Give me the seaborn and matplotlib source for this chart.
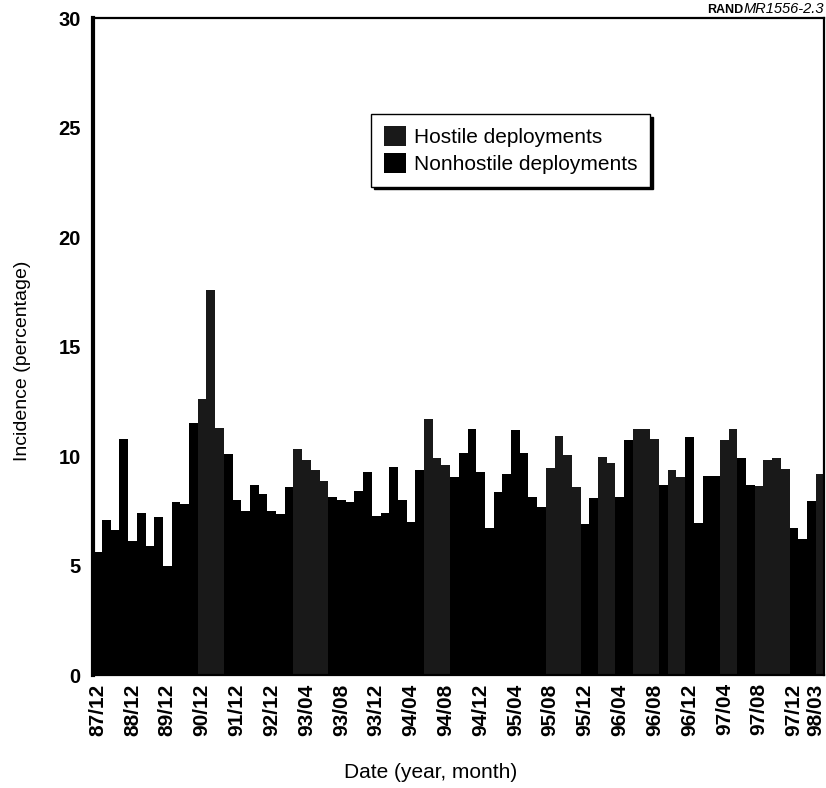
import pandas as pd
import matplotlib.pyplot as plt
import seaborn as sns
import matplotlib as mpl

sns.set_style('white')
mpl.rcParams.update({
    'font.family': ['Liberation Sans', 'DejaVu Sans'],
    'font.size': 14,
    'text.color': 'black',
    'axes.labelcolor': 'black',
    'xtick.color': 'black',
    'ytick.color': 'black',
})

# quarterly until 92/12, monthly afterwards
dates = [
    "87/12", "88/03", "88/06", "88/09", "88/12", "89/03", "89/06", "89/09",
    "89/12", "90/03", "90/06", "90/09", "90/12", "91/03", "91/06", "91/09",
    "91/12", "92/03", "92/06", "92/09", "92/12",
    "93/01", "93/02", "93/03", "93/04", "93/05", "93/06", "93/07", "93/08",
    "93/09", "93/10", "93/11", "93/12",
    "94/01", "94/02", "94/03", "94/04", "94/05", "94/06", "94/07", "94/08",
    "94/09", "94/10", "94/11", "94/12",
    "95/01", "95/02", "95/03", "95/04", "95/05", "95/06", "95/07", "95/08",
    "95/09", "95/10", "95/11", "95/12",
    "96/01", "96/02", "96/03", "96/04", "96/05", "96/06", "96/07", "96/08",
    "96/09", "96/10", "96/11", "96/12",
    "97/01", "97/02", "97/03", "97/04", "97/05", "97/06", "97/07", "97/08",
    "97/09", "97/10", "97/11", "97/12",
    "98/01", "98/02", "98/03",
]

incidence = [
    5.6, 7.1, 6.6, 10.8, 6.1, 7.4, 5.9, 7.2,
    5.0, 7.9, 7.8, 11.5, 12.6, 17.6, 11.3, 10.1,
    8.0, 7.5, 8.7, 8.25, 7.5,
    7.35, 8.6, 10.3, 9.8, 9.35, 8.85, 8.15, 8.0,
    7.9, 8.4, 9.25, 7.25,
    7.4, 9.5, 8.0, 7.0, 9.35, 11.7, 9.9, 9.6,
    9.05, 10.15, 11.25, 9.25,
    6.7, 8.35, 9.2, 11.2, 10.15, 8.15, 7.65, 9.45,
    10.9, 10.05, 8.6, 6.9,
    8.1, 9.95, 9.7, 8.15, 10.75, 11.25, 11.25, 10.8,
    8.7, 9.35, 9.05, 10.85,
    6.95, 9.1, 9.1, 10.75, 11.25, 9.9, 8.7, 8.65,
    9.8, 9.9, 9.4, 6.7,
    6.2, 7.95, 9.2,
]

hostile_dates = [
    "90/12", "91/03", "91/06",
    "93/03", "93/04", "93/05", "93/06",
    "94/06", "94/07", "94/08",
    "95/08", "95/09", "95/10", "95/11", "96/02", "96/03",
    "96/06", "96/07", "96/08", "96/10", "96/11",
    "97/04", "97/05", "97/08", "97/09", "97/10", "97/11", "98/03",
]

tick_labels = [
    "87/12", "88/12", "89/12", "90/12", "91/12", "92/12", "93/04", "93/08",
    "93/12", "94/04", "94/08", "94/12", "95/04", "95/08", "95/12", "96/04",
    "96/08", "96/12", "97/04", "97/08", "97/12", "98/03",
]

df = pd.DataFrame({'Date': dates, 'Incidence': incidence})
df['Type'] = ['Hostile deployments' if d in hostile_dates else 'Nonhostile deployments'
              for d in df['Date']]

fig = plt.figure(figsize=(8.26, 7.88), dpi=100)
ax = fig.add_axes([0.113, 0.1434, 0.885, 0.8336])

sns.barplot(
    data=df, x='Date', y='Incidence', hue='Type', order=dates,
    hue_order=['Hostile deployments', 'Nonhostile deployments'],
    palette={'Hostile deployments': '#191919', 'Nonhostile deployments': 'black'},
    dodge=False, width=1.0, saturation=1, linewidth=0, ax=ax,
)

ax.set_xlim(-0.5, len(dates) - 0.5)
ax.set_ylim(0, 30)
ax.set_yticks([0, 5, 10, 15, 20, 25, 30])
ax.set_yticklabels(['0', '5', '10', '15', '20', '25', '30'], fontweight='bold', fontsize=14.5)
ax.set_xticks([dates.index(t) for t in tick_labels])
ax.set_xticklabels(tick_labels, rotation=90, fontweight='bold', fontsize=15)

ax.tick_params(axis='y', direction='in', length=13, width=1.5, pad=9)
ax.tick_params(axis='x', length=0, pad=6)

# last label sits right at the figure edge
last = ax.get_xticklabels()[-1]
last.set_transform(last.get_transform() +
                   mpl.transforms.ScaledTranslation(-3 / 72, 0, fig.dpi_scale_trans))

for side in ['top', 'right', 'bottom']:
    ax.spines[side].set_visible(True)
    ax.spines[side].set_color('black')
    ax.spines[side].set_linewidth(1.6)
ax.spines['left'].set_color('black')
ax.spines['left'].set_linewidth(3)

ax.set_ylabel('Incidence (percentage)', fontsize=14)
ax.yaxis.set_label_coords(-0.085, 0.479)
ax.set_xlabel('Date (year, month)', fontsize=15)
ax.xaxis.set_label_coords(0.461, -0.134)

handles, labels = ax.get_legend_handles_labels()
ax.legend(handles, labels, loc='center', bbox_to_anchor=(0.571, 0.799),
          frameon=True, fancybox=False, edgecolor='black', fontsize=15,
          shadow={'color': 'black', 'alpha': 1}, handlelength=1.05, handleheight=1.05,
          handletextpad=0.4, borderpad=0.6, labelspacing=0.3, framealpha=1)

# RAND tag at the top right
tag = fig.text(0.998, 0.9835, 'MR1556-2.3', ha='right', va='baseline',
               fontsize=10.5, style='italic')
fig.canvas.draw()
tag_x0 = tag.get_window_extent().x0 / fig.bbox.width
fig.text(tag_x0, 0.9835, 'RAND', ha='right', va='baseline', fontsize=9, fontweight='bold')

plt.savefig('out.png', dpi=100, facecolor='white')
